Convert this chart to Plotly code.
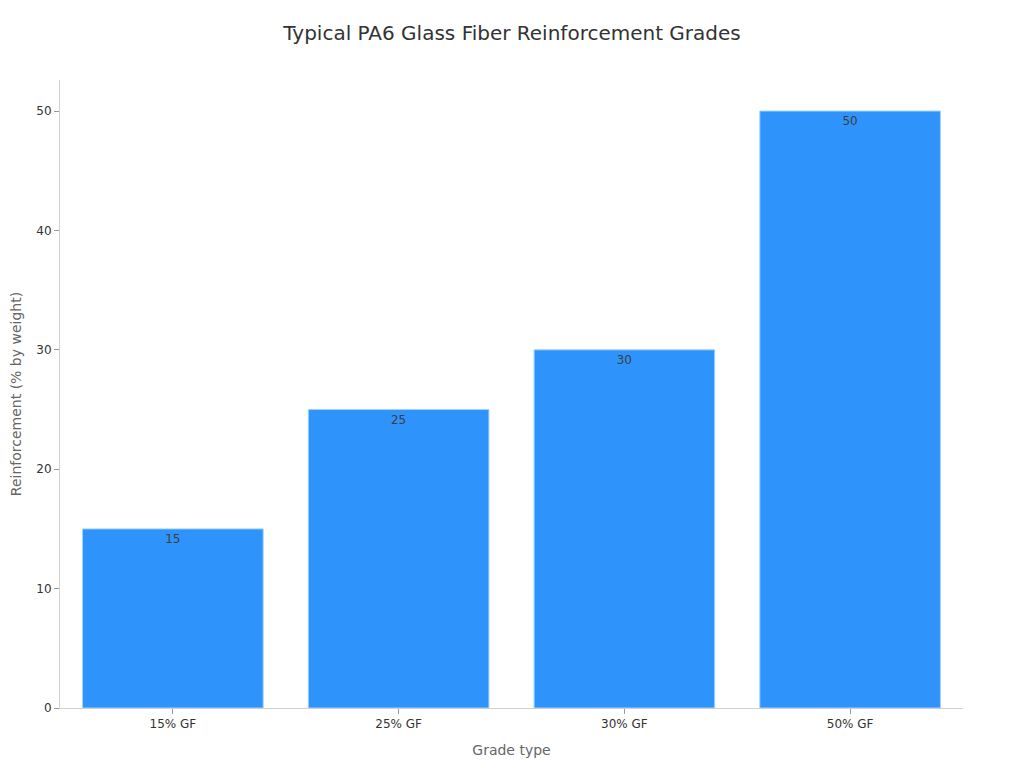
import plotly.graph_objs as go

grades = ["15% GF", "25% GF", "30% GF", "50% GF"]
reinforcement = [15, 25, 30, 50]

fig = go.Figure()

fig.add_trace(go.Bar(
    x=grades,
    y=reinforcement,
    text=[str(v) for v in reinforcement],
    textposition='inside',
    insidetextanchor='end',
    textfont=dict(color='#3f3f3f', size=12),
    marker=dict(color='#2e93fa', line=dict(color='#9fd0ff', width=1)),
    showlegend=False,
))

# page body adds an 8px margin, so size the figure to the visible area
fig.update_layout(
    template='plotly_white',
    width=1008,
    height=752,
    paper_bgcolor='white',
    plot_bgcolor='white',
    font=dict(family='DejaVu Sans', color='#333'),
    margin=dict(l=52, r=53, t=72, b=52),
    bargap=0.2,
    title=dict(
        text="Typical PA6 Glass Fiber Reinforcement Grades",
        x=0.5, xanchor='center', y=1 - 25 / 752, yanchor='middle',
        font=dict(size=20, color='#333'),
    ),
    xaxis=dict(
        title=dict(text="Grade type", font=dict(size=14, color='#666'), standoff=14),
        automargin=False,
        showgrid=False,
        showline=True, linecolor='#d0d0d0', linewidth=1,
        ticks='outside', ticklen=5, tickcolor='#999',
        tickfont=dict(size=12, color='#333'),
    ),
    yaxis=dict(
        title=dict(text="Reinforcement (% by weight)", font=dict(size=14, color='#666'), standoff=20),
        automargin=False,
        range=[0, 52.6],
        dtick=10,
        showgrid=False,
        zeroline=False,
        showline=True, linecolor='#d0d0d0', linewidth=1,
        ticks='outside', ticklen=5, tickcolor='#999',
        tickfont=dict(size=12, color='#333'),
    ),
)

fig.write_html("out.html")
